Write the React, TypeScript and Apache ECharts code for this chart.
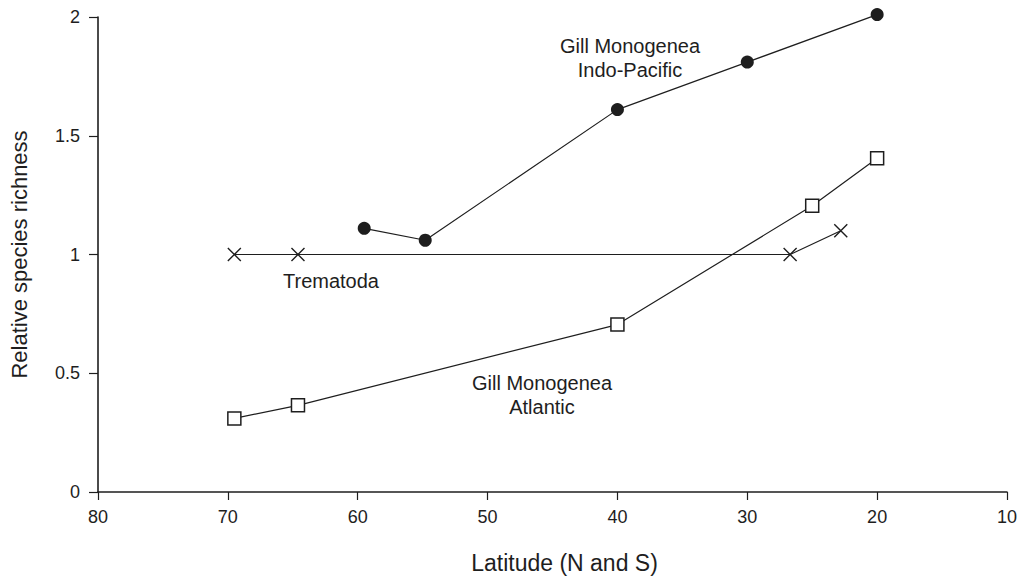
import React, { useEffect, useRef } from "react";
import * as echarts from "echarts";

const indoPacific: [number, number][] = [
  [59.5, 1.11],
  [54.8, 1.06],
  [40, 1.61],
  [30, 1.81],
  [20, 2.01],
];
const atlantic: [number, number][] = [
  [69.5, 0.31],
  [64.6, 0.365],
  [40, 0.705],
  [25, 1.205],
  [20, 1.405],
];
const trematoda: [number, number][] = [
  [69.5, 1.0],
  [64.6, 1.0],
  [26.7, 1.0],
  [22.8, 1.1],
];
const xTicks = { min: 10, max: 80, interval: 10 };
const yTicks = { min: 0, max: 2, interval: 0.5 };

const INK = "#1e1e1e";
const FONT = "Liberation Sans, Arial, Helvetica, sans-serif";
const CROSS = "path://M0,0L10,10M10,0L0,10";

export default function App() {
  const ref = useRef<HTMLDivElement>(null);
  useEffect(() => {
    if (!ref.current) return;
    const chart = echarts.init(ref.current, undefined, { renderer: "svg" });
    const base = {
      type: "line",
      clip: false,
      lineStyle: { color: INK, width: 1.2 },
      z: 3,
    };
    const note = (text: string, x: number, y: number) => ({
      type: "text",
      x,
      y,
      style: {
        text,
        fontFamily: FONT,
        fontSize: 20,
        lineHeight: 23.5,
        fill: INK,
        align: "center",
        verticalAlign: "middle",
      },
    });
    chart.setOption({
      animation: false,
      backgroundColor: "#fff",
      grid: { left: 97, right: 11, top: 17, bottom: 84, containLabel: false },
      xAxis: {
        type: "value",
        inverse: true,
        ...xTicks,
        name: "Latitude (N and S)",
        nameLocation: "middle",
        nameGap: 59,
        nameTextStyle: {
          fontFamily: FONT,
          fontSize: 23,
          color: INK,
          padding: [0, 0, 0, 24],
        },
        axisLine: { show: true, lineStyle: { color: INK, width: 1.6 } },
        axisTick: { show: true, length: 8, lineStyle: { color: INK, width: 1.2 } },
        axisLabel: { fontFamily: FONT, fontSize: 18, color: INK, margin: 16 },
        splitLine: { show: false },
      },
      yAxis: {
        type: "value",
        ...yTicks,
        name: "Relative species richness",
        nameLocation: "middle",
        nameGap: 68,
        nameTextStyle: { fontFamily: FONT, fontSize: 22, color: INK },
        axisLine: { show: true, lineStyle: { color: INK, width: 1.6 } },
        axisTick: { show: true, length: 9, lineStyle: { color: INK, width: 1.2 } },
        axisLabel: { fontFamily: FONT, fontSize: 18, color: INK, margin: 18 },
        splitLine: { show: false },
      },
      series: [
        {
          ...base,
          name: "Gill Monogenea Indo-Pacific",
          data: indoPacific,
          symbol: "circle",
          symbolSize: 13,
          itemStyle: { color: INK, borderColor: INK, borderWidth: 0 },
        },
        {
          ...base,
          name: "Gill Monogenea Atlantic",
          data: atlantic,
          symbol: "rect",
          symbolSize: 13,
          itemStyle: { color: "#fff", borderColor: INK, borderWidth: 1.5 },
        },
        {
          ...base,
          name: "Trematoda",
          data: trematoda,
          symbol: CROSS,
          symbolSize: 13,
          itemStyle: { color: "none", borderColor: INK, borderWidth: 1.4 },
        },
      ],
      graphic: [
        note("Gill Monogenea\nIndo-Pacific", 630, 58),
        note("Trematoda", 331, 281),
        note("Gill Monogenea\nAtlantic", 542, 395),
      ],
    });
    return () => chart.dispose();
  }, []);
  return (
    <div
      ref={ref}
      style={{ position: "fixed", left: 0, top: 0, width: 1020, height: 579 }}
    />
  );
}
